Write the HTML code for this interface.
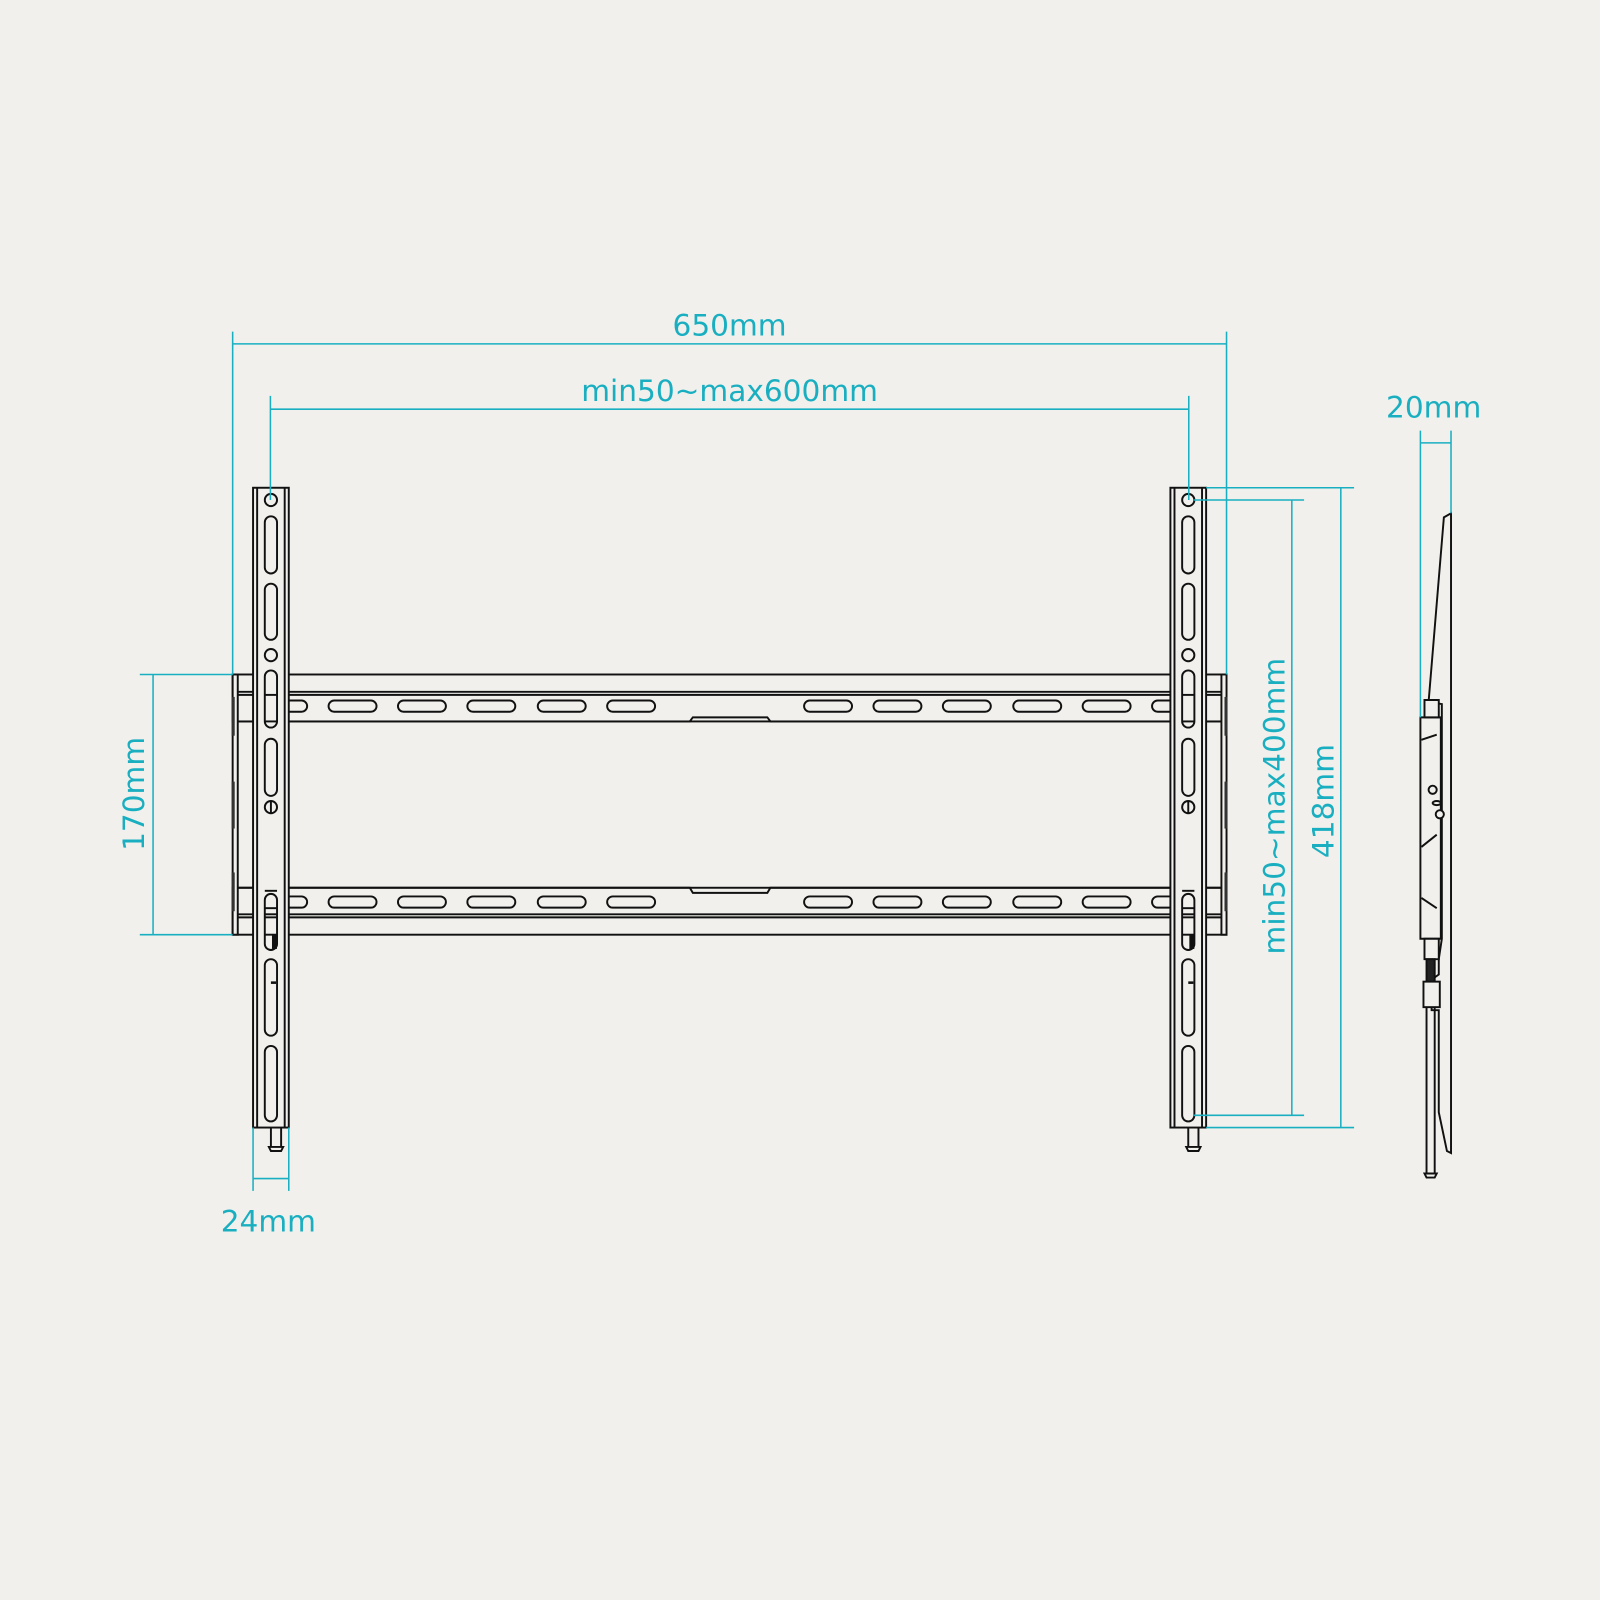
<!DOCTYPE html>
<html><head><meta charset="utf-8"><style>
html,body{margin:0;padding:0;background:#f1f0ec;}
svg{display:block}
text{font-family:"DejaVu Sans","Liberation Sans",sans-serif;fill:#19afc1;font-size:29px}
</style></head><body>
<svg width="1600" height="1600" viewBox="0 0 1568 1568" xmlns="http://www.w3.org/2000/svg">
<rect width="1568" height="1568" fill="#f1f0ec"/>
<defs>
<g id="rslots" fill="none" stroke="#111" stroke-width="1.9">
<rect x="322" y="-5.5" width="47" height="11" rx="5.5"/>
<rect x="390" y="-5.5" width="47" height="11" rx="5.5"/>
<rect x="458" y="-5.5" width="47" height="11" rx="5.5"/>
<rect x="527" y="-5.5" width="47" height="11" rx="5.5"/>
<rect x="595" y="-5.5" width="47" height="11" rx="5.5"/>
<rect x="788" y="-5.5" width="47" height="11" rx="5.5"/>
<rect x="856" y="-5.5" width="47" height="11" rx="5.5"/>
<rect x="924" y="-5.5" width="47" height="11" rx="5.5"/>
<rect x="993" y="-5.5" width="47" height="11" rx="5.5"/>
<rect x="1061" y="-5.5" width="47" height="11" rx="5.5"/>
<rect x="270" y="-5.5" width="31" height="11" rx="5.5"/>
<rect x="1129" y="-5.5" width="30" height="11" rx="5.5"/>
</g>
<g id="bracket" stroke="#111" stroke-width="1.9">
<rect x="-17.5" y="478" width="35" height="627" fill="#f1f0ec"/>
<line x1="-13.5" y1="478" x2="-13.5" y2="1105" fill="none"/>
<line x1="13.5" y1="478" x2="13.5" y2="1105" fill="none"/>
<g fill="#f1f0ec">
<circle cx="0" cy="490" r="6"/>
<rect x="-6" y="506" width="12" height="56" rx="6"/>
<rect x="-6" y="572" width="12" height="55" rx="6"/>
<circle cx="0" cy="642" r="6"/>
<rect x="-6" y="657" width="12" height="56" rx="6"/>
<rect x="-6" y="724" width="12" height="56" rx="6"/>
<circle cx="0" cy="791" r="6"/>
<rect x="-6" y="876" width="12" height="55" rx="6"/>
<rect x="-6" y="940" width="12" height="75" rx="6"/>
<rect x="-6" y="1025" width="12" height="74" rx="6"/>
</g>
<line x1="0" y1="785" x2="0" y2="797"/>
<line x1="-6" y1="681" x2="6" y2="681"/><line x1="-6" y1="707" x2="6" y2="707"/>
<line x1="-6" y1="896" x2="6" y2="896"/><line x1="-6" y1="899" x2="6" y2="899"/><line x1="-6" y1="916" x2="6" y2="916"/>
<line x1="-6" y1="873" x2="6" y2="873"/><line x1="-6" y1="890" x2="6" y2="890"/>
<rect x="2" y="917" width="3" height="12" fill="#111"/>
<line x1="0" y1="963" x2="5" y2="963" stroke-width="2.5"/>
<path d="M0 1105 V1124 M10 1105 V1124 M-2 1124 H12 L10 1128 H0 Z" fill="#f1f0ec"/>
</g>
</defs>
<g stroke="#111" stroke-width="1.9" fill="none">
<rect x="228" y="661" width="974" height="46" fill="#f1f0ec"/>
<line x1="228" y1="678" x2="1202" y2="678"/>
<line x1="228" y1="681" x2="1202" y2="681"/>
<path d="M228 707 H676 L679 703 H752 L755 707 H1202" stroke="#111"/>
<rect x="228" y="870" width="974" height="46" fill="#f1f0ec"/>
<path d="M228 870 H676 L679 875 H752 L755 870 H1202"/>
<line x1="228" y1="896" x2="1202" y2="896"/>
<line x1="228" y1="899" x2="1202" y2="899"/>
<rect x="228" y="661" width="5" height="255" fill="#f1f0ec"/>
<rect x="1197" y="661" width="5" height="255" fill="#f1f0ec"/>
<rect x="227" y="683" width="3" height="38" fill="#333" stroke="none"/>
<rect x="227" y="766" width="3" height="46" fill="#333" stroke="none"/>
<rect x="227" y="855" width="3" height="38" fill="#333" stroke="none"/>
<rect x="1200" y="683" width="3" height="38" fill="#333" stroke="none"/>
<rect x="1200" y="766" width="3" height="46" fill="#333" stroke="none"/>
<rect x="1200" y="855" width="3" height="38" fill="#333" stroke="none"/>
</g>
<use href="#rslots" transform="translate(0,692)"/>
<use href="#rslots" transform="translate(0,884)"/>
<use href="#bracket" transform="translate(265.5,0)"/>
<use href="#bracket" transform="translate(1164.5,0)"/>
<g stroke="#111" stroke-width="1.9" fill="#f1f0ec">
<path d="M1422 503 L1422 1130 L1418 1128 L1410 1090 L1410 990 L1403 990 L1403 960 L1410 955 L1410 940 L1413 920 L1413 690 L1400 688 L1415 507 Z"/>
<path d="M1392 703 H1412 V920 H1392 Z"/>
<path d="M1396 686 H1410 V703 H1396 Z"/>
<path d="M1396 920 H1410 V940 H1396 Z"/>
<rect x="1398" y="940" width="8" height="22" fill="#222"/>
<rect x="1395" y="962" width="16" height="25"/>
<path d="M1398 987 V1150 M1406 987 V1150 M1396 1150 H1408 L1406 1154 H1398 Z"/>
<path d="M1393 725 L1408 720 M1393 830 L1408 818 M1393 880 L1408 890" fill="none"/>
<circle cx="1404" cy="774" r="4"/><ellipse cx="1408" cy="787" rx="4" ry="2"/><circle cx="1411" cy="798" r="4"/>
</g>
<g stroke="#19afc1" stroke-width="1.5" fill="none">
<path d="M228 325 V661 M1202 325 V661 M228 337 H1202"/>
<path d="M265 388 V490 M1165 388 V490 M265 401 H1165"/>
<path d="M137 661 H228 M137 916 H228 M150 661 V916"/>
<path d="M248 1105 V1167 M283 1105 V1167 M248 1155 H283"/>
<path d="M1170 490 H1278 M1170 1093 H1278 M1266 490 V1093"/>
<path d="M1182 478 H1327 M1182 1105 H1327 M1314 478 V1105"/>
<path d="M1392 422 V703 M1422 422 V503 M1392 434 H1422"/>
</g>
<text x="715" y="329" text-anchor="middle">650mm</text>
<text x="715" y="393" text-anchor="middle">min50~max600mm</text>
<text x="1405" y="409" text-anchor="middle">20mm</text>
<text x="263" y="1207" text-anchor="middle">24mm</text>
<text transform="translate(141,778) rotate(-90)" text-anchor="middle">170mm</text>
<text transform="translate(1259,790) rotate(-90)" text-anchor="middle">min50~max400mm</text>
<text transform="translate(1307,785) rotate(-90)" text-anchor="middle">418mm</text>
</svg>
</body></html>
